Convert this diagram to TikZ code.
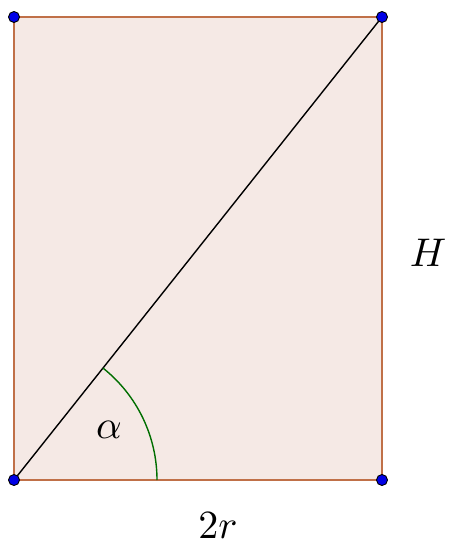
\documentclass[tikz,border=0pt]{standalone}
\usepackage{graphicx}
\usepackage{tikz}
\usetikzlibrary{calc}
\definecolor{fillc}{RGB}{245,233,229}
\definecolor{edgec}{RGB}{192,112,72}
\definecolor{arcc}{RGB}{0,110,0}
\definecolor{dotc}{RGB}{0,0,230}
\newcommand{\bigmath}[1]{\scalebox{4}{$#1$}}
\tikzset{
  pt/.style={circle,fill=dotc,draw=black,line width=0.9pt,inner sep=0pt,minimum size=11pt},
  lbl/.style={inner sep=0pt},
  edge/.style={draw=edgec,line width=1.6pt},
}
\begin{document}
\begin{tikzpicture}[x=1pt,y=-1pt]
\useasboundingbox (0,0) rectangle (448,544);
\coordinate (A) at (14,480);
\coordinate (B) at (382,480);
\coordinate (C) at (382,17);
\coordinate (D) at (14,17);
\fill[fillc] (A) -- (B) -- (C) -- (D) -- cycle;
\draw[edge] (A) -- (B) -- (C) -- (D) -- cycle;
\draw[black,line width=1.4pt] (A) -- (C);
\draw[arcc,line width=1.4pt] ($(A)+(143,0)$) arc[start angle=0,end angle=-51.5,radius=143];
\node[lbl] (al) at (109,430) {\bigmath{\alpha}};
\node[lbl] (h) at (428,253) {\bigmath{H}};
\node[lbl] (r) at (218,526) {\bigmath{2r}};
\foreach \p in {A,B,C,D} \node[pt] (p\p) at (\p) {};
\end{tikzpicture}
\end{document}
